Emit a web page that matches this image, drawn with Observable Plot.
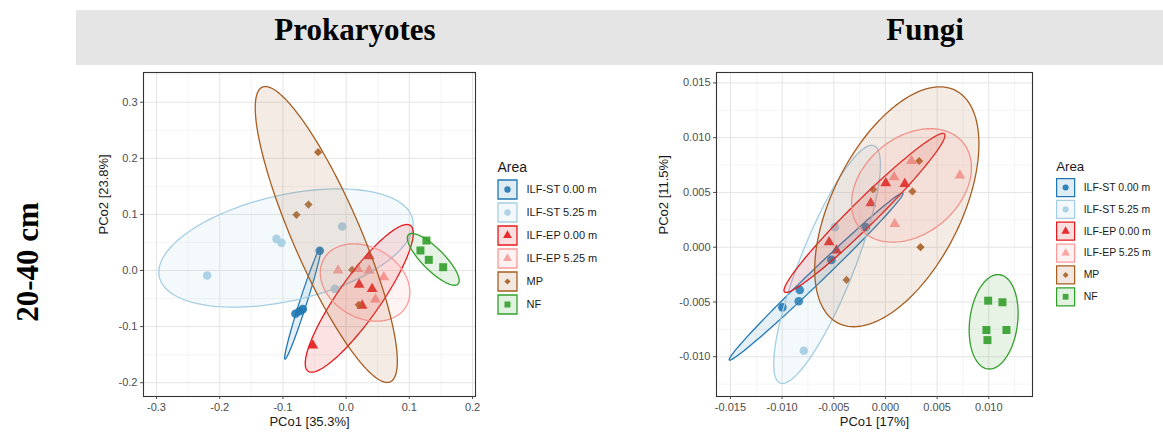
<!DOCTYPE html>
<html>
<head>
<meta charset="utf-8">
<script src="https://cdn.jsdelivr.net/npm/d3@7"></script>
<script src="https://cdn.jsdelivr.net/npm/@observablehq/plot@0.6"></script>
<style>
  body { margin: 0; background: #fff; }
  #root { position: relative; width: 1163px; height: 434px; overflow: hidden; background: #fff; }
  .band { position: absolute; left: 76px; top: 10px; width: 1087px; height: 55px; background: #e5e5e5; }
  .hdr { position: absolute; top: 10px; height: 40px; line-height: 40px; font-family: "Liberation Serif", "Times New Roman", serif;
         font-weight: bold; font-size: 31px; color: #000; white-space: nowrap; transform: translateX(-50%); }
  .rowlab { position: absolute; left: 28px; top: 262px; font-family: "Liberation Serif", "Times New Roman", serif; font-weight: bold;
            font-size: 31px; color: #000; white-space: nowrap; transform: translate(-50%, -50%) rotate(-90deg); }
  .pane { position: absolute; line-height: 0; }
</style>
</head>
<body>
<div id="root">
  <div class="band"></div>
  <div class="hdr" style="left:355px">Prokaryotes</div>
  <div class="hdr" style="left:925px">Fungi</div>
  <div class="rowlab">20-40 cm</div>
  <div class="pane" id="prok" style="left:80px;top:60px"></div>
  <div class="pane" id="prokLegend" style="left:490px;top:150px"></div>
  <div class="pane" id="fungi" style="left:640px;top:60px"></div>
  <div class="pane" id="fungiLegend" style="left:1049px;top:150px"></div>
</div>
<script>
// ---------- categories & styles ----------
const groups = ["ILF-ST 0.00 m", "ILF-ST 5.25 m", "ILF-EP 0.00 m", "ILF-EP 5.25 m", "MP", "NF"];
const groupColors = ["#1f78b4", "#a6cee3", "#e31a1c", "#fb9a99", "#a65e22", "#33a02c"];
const groupSymbols = ["circle", "circle", "triangle", "triangle", "diamond2", "square"];
const groupSizes = [4.3, 4.3, 4.0, 4.0, 3.7, 4.5];
const legendSizes = [3.2, 3.2, 3.3, 3.3, 2.8, 3.4];

// ---------- Prokaryotes ----------
const prokXTicks = [-0.3, -0.2, -0.1, 0.0, 0.1, 0.2];
const prokYTicks = [-0.2, -0.1, 0.0, 0.1, 0.2, 0.3];
const prokXMinor = [-0.25, -0.15, -0.05, 0.05, 0.15];
const prokYMinor = [-0.15, -0.05, 0.05, 0.15, 0.25, 0.35];
const prokXLabel = "PCo1 [35.3%]";
const prokYLabel = "PCo2 [23.8%]";
// [group, PCo1, PCo2]
const prokPoints = [
  ["ILF-ST 0.00 m", -0.0417, 0.0351],
  ["ILF-ST 0.00 m", -0.0802, -0.0772],
  ["ILF-ST 0.00 m", -0.0738, -0.0725],
  ["ILF-ST 0.00 m", -0.0686, -0.0689],
  ["ILF-ST 5.25 m", -0.2199, -0.0089],
  ["ILF-ST 5.25 m", -0.1102, 0.0564],
  ["ILF-ST 5.25 m", -0.1023, 0.0493],
  ["ILF-ST 5.25 m", -0.0063, 0.0784],
  ["ILF-ST 5.25 m", -0.0179, -0.0327],
  ["ILF-EP 0.00 m", 0.0364, 0.0255],
  ["ILF-EP 0.00 m", 0.0206, -0.0250],
  ["ILF-EP 0.00 m", 0.0411, -0.0327],
  ["ILF-EP 0.00 m", 0.0253, -0.0624],
  ["ILF-EP 0.00 m", -0.0527, -0.1337],
  ["ILF-EP 5.25 m", -0.0127, 0.0000],
  ["ILF-EP 5.25 m", 0.0185, 0.0030],
  ["ILF-EP 5.25 m", 0.0364, 0.0000],
  ["ILF-EP 5.25 m", 0.0596, -0.0119],
  ["ILF-EP 5.25 m", 0.0464, -0.0517],
  ["MP", -0.0443, 0.2109],
  ["MP", -0.0596, 0.1176],
  ["MP", -0.0786, 0.0992],
  ["MP", 0.0095, 0.0012],
  ["MP", 0.0200, -0.0612],
  ["NF", 0.1271, 0.0535],
  ["NF", 0.1176, 0.0357],
  ["NF", 0.1308, 0.0190],
  ["NF", 0.1535, 0.0059]
];
// [group, centreX, centreY, topOffsetX, topOffsetY, halfWidthAtCentre]
const prokEllipses = [
  ["ILF-ST 0.00 m", -0.0686, -0.0591, 0.0280, 0.0989, 0.0060],
  ["ILF-ST 5.25 m", -0.0952, 0.0401, 0.0823, 0.1055, 0.1835],
  ["ILF-EP 0.00 m", 0.0208, -0.0496, 0.0754, 0.1316, 0.0403],
  ["ILF-EP 5.25 m", 0.0300, -0.0214, -0.0179, 0.0689, 0.0686],
  ["MP", -0.0314, 0.0642, -0.0963, 0.2638, 0.0580],
  ["NF", 0.1379, 0.0199, -0.0337, 0.0462, 0.0234]
];

// ---------- Fungi ----------
const fungiXTicks = [-0.015, -0.010, -0.005, 0.000, 0.005, 0.010];
const fungiYTicks = [-0.010, -0.005, 0.000, 0.005, 0.010, 0.015];
const fungiXMinor = [-0.0125, -0.0075, -0.0025, 0.0025, 0.0075, 0.0125];
const fungiYMinor = [-0.0125, -0.0075, -0.0025, 0.0025, 0.0075, 0.0125];
const fungiXLabel = "PCo1 [17%]";
const fungiYLabel = "PCo2 [11.5%]";
const fungiPoints = [
  ["ILF-ST 0.00 m", -0.00997, -0.00549],
  ["ILF-ST 0.00 m", -0.00839, -0.00494],
  ["ILF-ST 0.00 m", -0.00829, -0.00390],
  ["ILF-ST 0.00 m", -0.00190, 0.00183],
  ["ILF-ST 0.00 m", -0.00523, -0.00116],
  ["ILF-ST 5.25 m", -0.00790, -0.00945],
  ["ILF-ST 5.25 m", -0.00490, 0.00183],
  ["ILF-EP 0.00 m", 0.00003, 0.00585],
  ["ILF-EP 0.00 m", 0.00187, 0.00579],
  ["ILF-EP 0.00 m", -0.00142, 0.00402],
  ["ILF-EP 0.00 m", -0.00545, 0.00046],
  ["ILF-EP 0.00 m", -0.00474, -0.00030],
  ["ILF-EP 5.25 m", 0.00252, 0.00787],
  ["ILF-EP 5.25 m", 0.00084, 0.00640],
  ["ILF-EP 5.25 m", 0.00720, 0.00655],
  ["ILF-EP 5.25 m", 0.00090, 0.00213],
  ["MP", 0.00326, 0.00787],
  ["MP", -0.00119, 0.00527],
  ["MP", 0.00261, 0.00509],
  ["MP", 0.00339, 0.00000],
  ["MP", -0.00377, -0.00299],
  ["NF", 0.00994, -0.00488],
  ["NF", 0.01132, -0.00503],
  ["NF", 0.00977, -0.00756],
  ["NF", 0.01171, -0.00756],
  ["NF", 0.00987, -0.00848]
];
const fungiEllipses = [
  ["ILF-ST 0.00 m", -0.00671, -0.00268, 0.00836, 0.00763, 0.00094],
  ["ILF-ST 5.25 m", -0.00565, -0.00157, 0.00432, 0.01087, 0.00283],
  ["ILF-EP 0.00 m", -0.00203, 0.00313, 0.00759, 0.00726, 0.00175],
  ["ILF-EP 5.25 m", 0.00252, 0.00564, 0.00182, 0.00518, 0.00551],
  ["MP", 0.00110, 0.00369, 0.00416, 0.01095, 0.00677],
  ["NF", 0.01047, -0.00681, 0.00042, 0.00431, 0.00233]
];

// ---------- helpers ----------
function ellipseOutline([g, cx, cy, ux, uy, hx]) {
  return d3.range(0, 145).map(i => {
    const t = (i / 144) * 2 * Math.PI;
    return {g, x: cx + ux * Math.cos(t) + hx * Math.sin(t), y: cy + uy * Math.cos(t)};
  });
}

function panel({points, ellipses, xDomain, yDomain, xTicks, yTicks, xMinor, yMinor, xLabel, yLabel,
                width, marginLeft, marginRight, digits, yTitleDx}) {
  const marks = [
    Plot.gridX(xMinor, {stroke: "#f3f3f3", strokeOpacity: 1, strokeWidth: 0.8}),
    Plot.gridY(yMinor, {stroke: "#f3f3f3", strokeOpacity: 1, strokeWidth: 0.8}),
    Plot.gridX(xTicks, {stroke: "#e4e4e4", strokeOpacity: 1, strokeWidth: 1}),
    Plot.gridY(yTicks, {stroke: "#e4e4e4", strokeOpacity: 1, strokeWidth: 1})
  ];
  groups.forEach((g, i) => {
    marks.push(Plot.dot(points.filter(p => p[0] === g), {
      x: p => p[1], y: p => p[2], symbol: groupSymbols[i], r: groupSizes[i],
      fill: groupColors[i], fillOpacity: 0.9, stroke: "none"
    }));
  });
  groups.forEach((g, i) => {
    const e = ellipses.find(d => d[0] === g);
    marks.push(Plot.line(ellipseOutline(e), {
      x: "x", y: "y", fill: groupColors[i], fillOpacity: 0.12,
      stroke: groupColors[i], strokeWidth: 1.3, curve: "linear"
    }));
  });
  marks.push(
    Plot.frame({stroke: "#333333", strokeWidth: 1.1}),
    Plot.axisX({ticks: xTicks, tickFormat: d => d.toFixed(digits), tickSize: 3, tickPadding: 4, label: null, fontSize: 11}),
    Plot.axisY({ticks: yTicks, tickFormat: d => d.toFixed(digits), tickSize: 3, tickPadding: 3, label: null, fontSize: 11}),
    Plot.text([xLabel], {frameAnchor: "bottom", dy: 29, text: d => d, fontSize: 13, fill: "#1a1a1a"}),
    Plot.text([yLabel], {frameAnchor: "left", dx: yTitleDx, rotate: -90, text: d => d, fontSize: 13, fill: "#1a1a1a"})
  );
  return Plot.plot({
    width, height: 374, marginLeft, marginRight, marginTop: 12, marginBottom: 38,
    x: {domain: xDomain}, y: {domain: yDomain},
    style: {fontFamily: "'Liberation Sans', Arial, sans-serif", fontSize: "11px", color: "#4d4d4d", background: "transparent", overflow: "visible"},
    marks
  });
}

function legend() {
  const marks = [
    Plot.text(["Area"], {frameAnchor: "top-left", dx: 7, dy: 12, text: d => d, textAnchor: "start", fontSize: 14, fill: "#1a1a1a"})
  ];
  groups.forEach((g, i) => {
    marks.push(
      Plot.dot([g], {x: () => 0, y: d => d, symbol: "square", r: 10.7, fill: groupColors[i], fillOpacity: 0.14, stroke: groupColors[i], strokeWidth: 1.3}),
      Plot.dot([g], {x: () => 0, y: d => d, symbol: groupSymbols[i], r: legendSizes[i], fill: groupColors[i], fillOpacity: 0.9, stroke: "none"}),
      Plot.text([g], {x: () => 0, y: d => d, text: d => d, dx: 19, textAnchor: "start", fontSize: 11, fill: "#1a1a1a"})
    );
  });
  return Plot.plot({
    width: 120, height: 170, margin: 0,
    x: {domain: [0, 1], range: [17, 117], axis: null},
    y: {type: "point", domain: groups, range: [37, 155], padding: 0, axis: null},
    style: {fontFamily: "'Liberation Sans', Arial, sans-serif", fontSize: "11px", background: "transparent", overflow: "visible"},
    marks
  });
}

document.getElementById("prok").append(panel({
  points: prokPoints, ellipses: prokEllipses,
  xDomain: [-0.3206, 0.2047], yDomain: [-0.2246, 0.353],
  xTicks: prokXTicks, yTicks: prokYTicks, xMinor: prokXMinor, yMinor: prokYMinor,
  xLabel: prokXLabel, yLabel: prokYLabel,
  width: 420, marginLeft: 63, marginRight: 25, digits: 1, yTitleDx: -40
}));
document.getElementById("fungi").append(panel({
  points: fungiPoints, ellipses: fungiEllipses,
  xDomain: [-0.01635, 0.01423], yDomain: [-0.01363, 0.01595],
  xTicks: fungiXTicks, yTicks: fungiYTicks, xMinor: fungiXMinor, yMinor: fungiYMinor,
  xLabel: fungiXLabel, yLabel: fungiYLabel,
  width: 400, marginLeft: 76, marginRight: 8, digits: 3, yTitleDx: -53
}));
document.getElementById("prokLegend").append(legend());
document.getElementById("fungiLegend").append(legend());
</script>
</body>
</html>
